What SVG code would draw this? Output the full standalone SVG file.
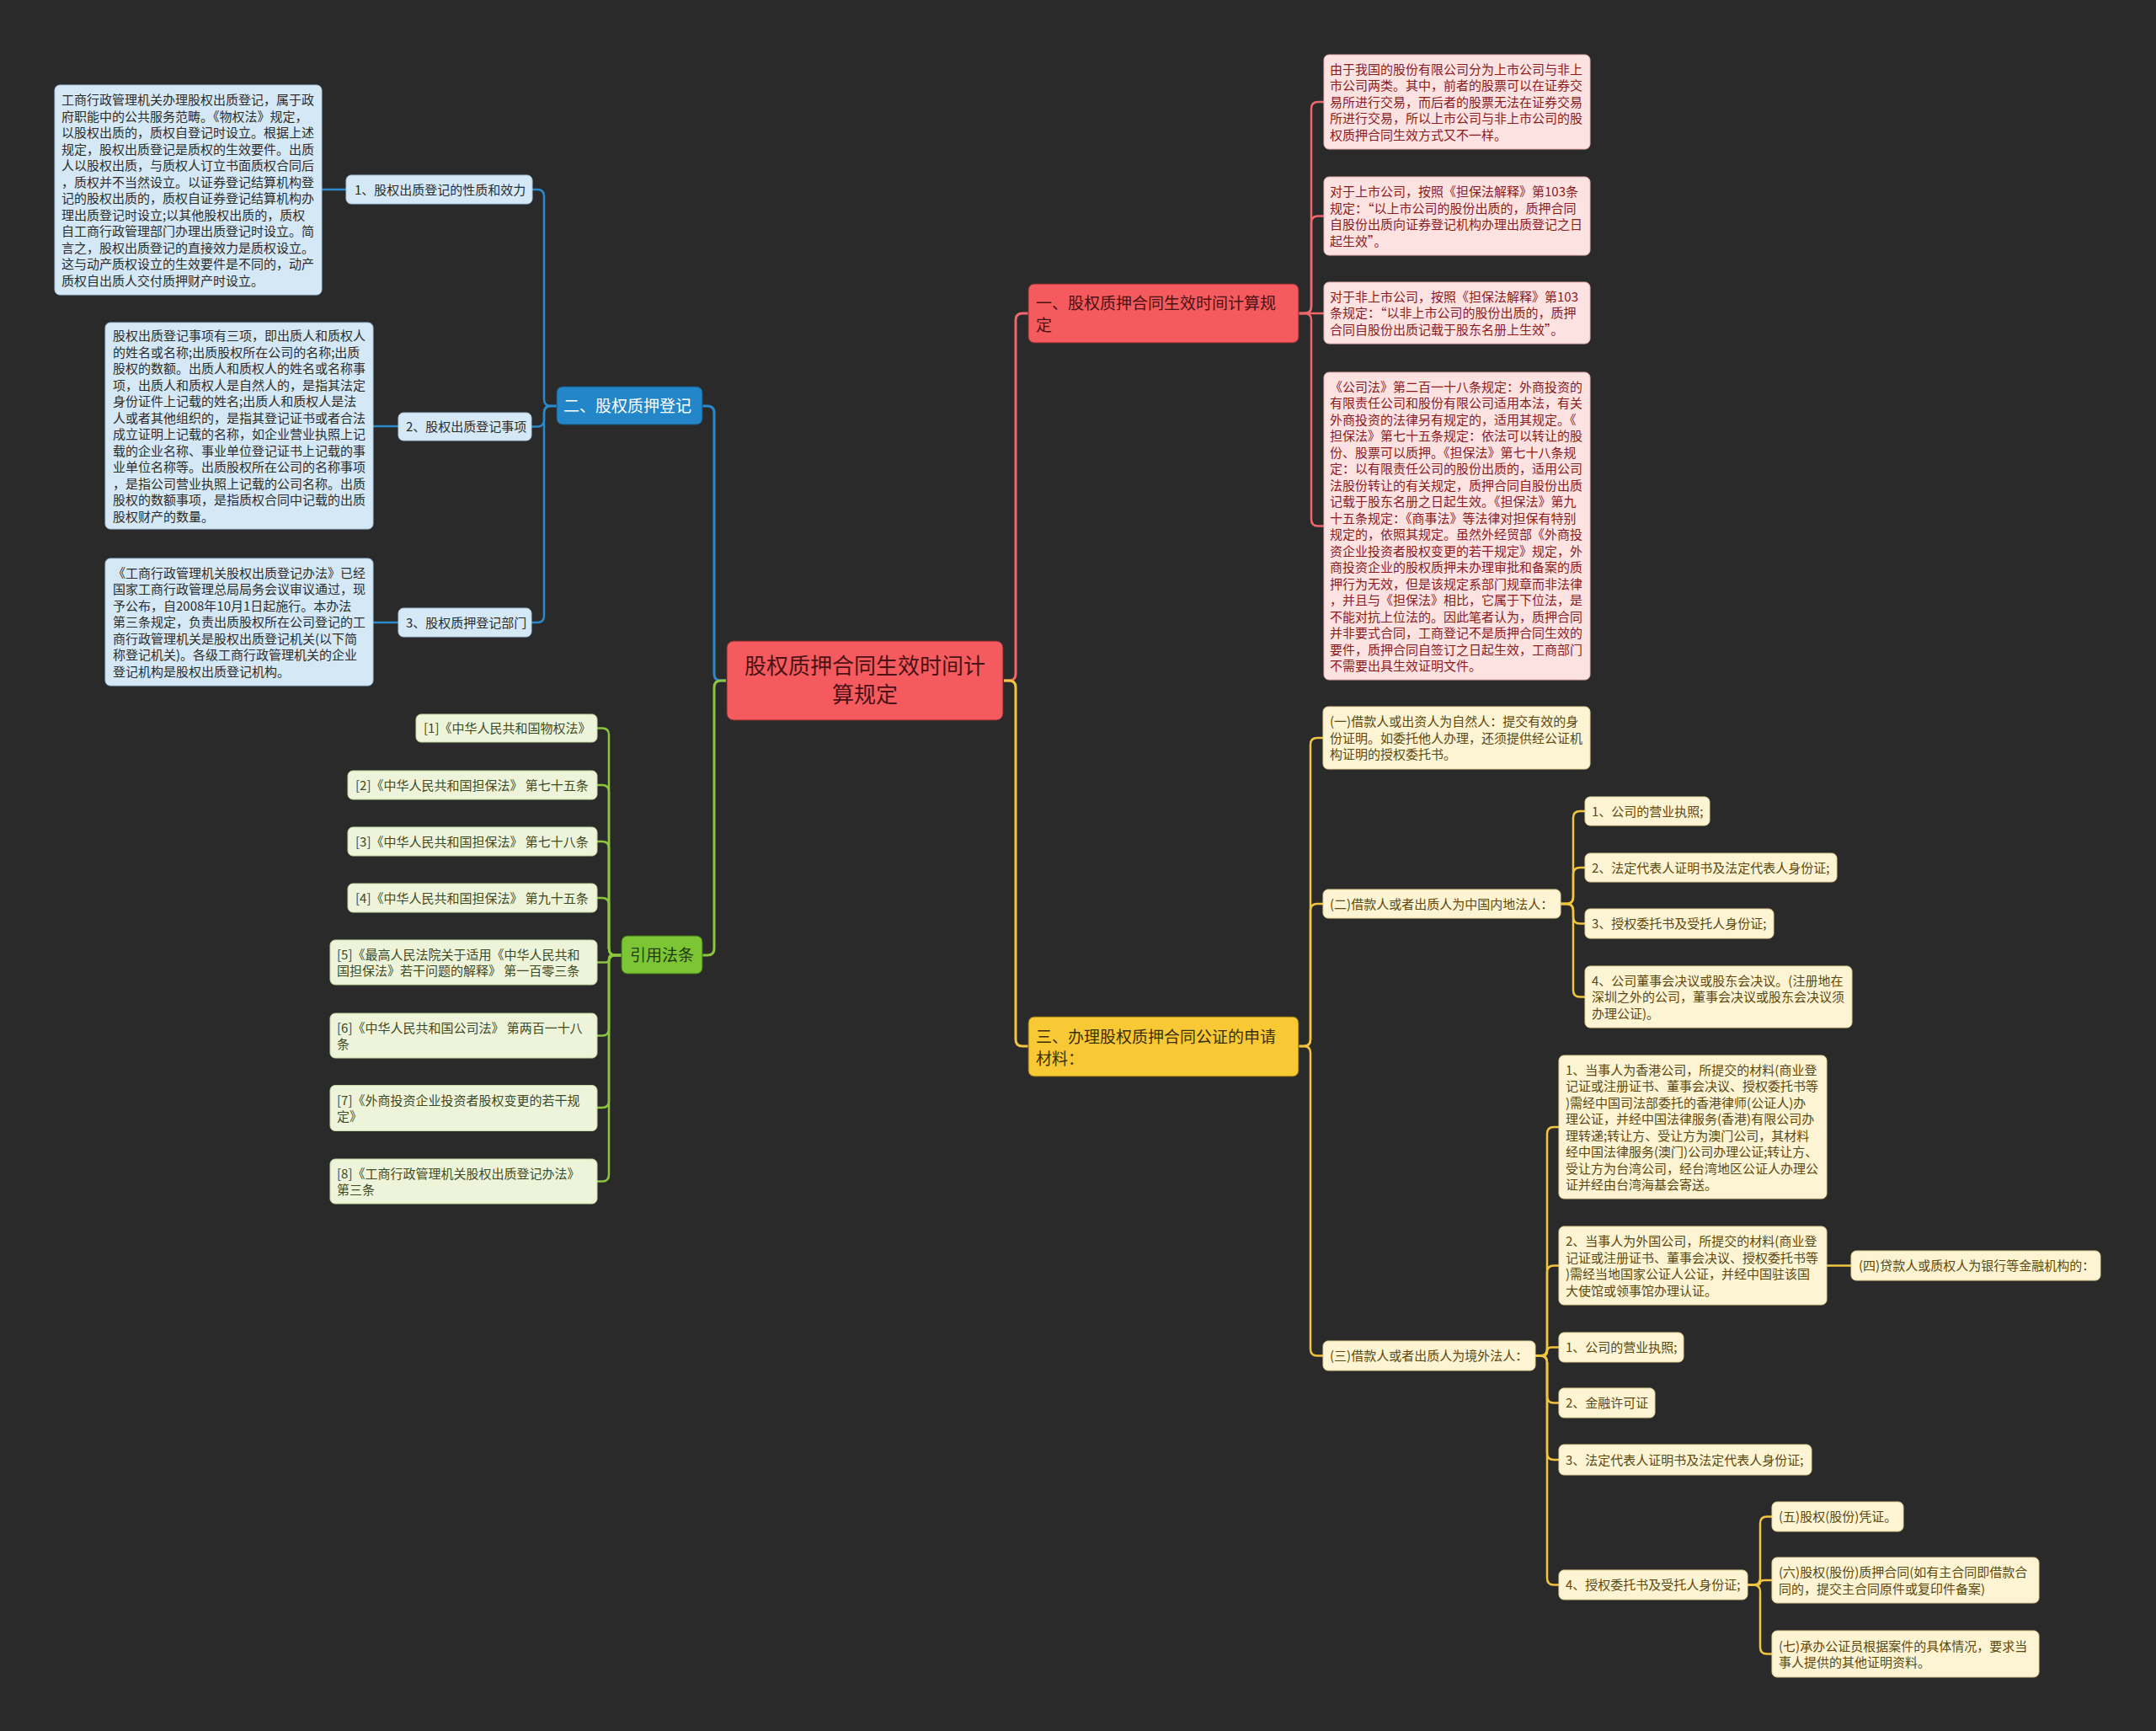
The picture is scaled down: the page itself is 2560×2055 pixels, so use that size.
<svg xmlns="http://www.w3.org/2000/svg" width="2560" height="2055" viewBox="0 0 2560 2055">
<style>
text{font-family:"Noto Sans CJK SC","Noto Sans",sans-serif;}
.s{font-size:15px;}
.m{font-size:19px;}
.c{font-size:26px;}
.bbox{fill:#d5e8f5;stroke:#a9c9e2;stroke-width:1;}
.btx{fill:#2c2c2c;}
.pbox{fill:#fde2e2;stroke:#e9b3b3;stroke-width:1;}
.ptx{fill:#8a1a1e;}
.gbox{fill:#eef4da;stroke:#c5d9a3;stroke-width:1;}
.gtx{fill:#3d4a26;}
.ybox{fill:#fdf4d3;stroke:#e6d39a;stroke-width:1;}
.ytx{fill:#5c4810;}
.lb{fill:none;stroke:#2b88cb;stroke-width:2.5;}
.lr{fill:none;stroke:#f0676b;stroke-width:2.5;}
.lg{fill:none;stroke:#8cc63f;stroke-width:2.5;}
.ly{fill:none;stroke:#f1c540;stroke-width:2.5;}
.main{stroke-width:3;}
</style>
<rect x="0" y="0" width="2560" height="2055" fill="#2a2a2a"/>

<g id="connectors">
<path class="lr main" d="M1192,808 H1198 Q1206,808 1206,800 V380 Q1206,372 1214,372 H1221"/>
<path class="ly main" d="M1192,808 H1198 Q1206,808 1206,816 V1234 Q1206,1242 1214,1242 H1221"/>
<path class="lb main" d="M862,808 H856 Q848,808 848,800 V490 Q848,482 840,482 H834"/>
<path class="lg main" d="M862,808 H856 Q848,808 848,816 V1126 Q848,1134 840,1134 H834"/>

<path class="lr" d="M1542,372 H1549 Q1557,372 1557,364 V129 Q1557,121 1565,121 H1572"/>
<path class="lr" d="M1542,372 H1549 Q1557,372 1557,364 V264.5 Q1557,256.5 1565,256.5 H1572"/>
<path class="lr" d="M1542,372 H1572"/>
<path class="lr" d="M1542,372 H1549 Q1557,372 1557,380 V616.5 Q1557,624.5 1565,624.5 H1572"/>

<path class="ly" d="M1542,1242 H1548 Q1556,1242 1556,1234 V884 Q1556,876 1564,876 H1571"/>
<path class="ly" d="M1542,1242 H1548 Q1556,1242 1556,1234 V1081 Q1556,1073 1564,1073 H1571"/>
<path class="ly" d="M1542,1242 H1548 Q1556,1242 1556,1250 V1601.5 Q1556,1609.5 1564,1609.5 H1571"/>

<path class="ly" d="M1853,1073 H1860 Q1868,1073 1868,1065 V971 Q1868,963 1876,963 H1882"/>
<path class="ly" d="M1853,1073 H1860 Q1868,1073 1868,1065 V1038 Q1868,1030 1876,1030 H1882"/>
<path class="ly" d="M1853,1073 H1860 Q1868,1073 1868,1081 V1088.5 Q1868,1096.5 1876,1096.5 H1882"/>
<path class="ly" d="M1853,1073 H1860 Q1868,1073 1868,1081 V1175.5 Q1868,1183.5 1876,1183.5 H1882"/>

<path class="ly" d="M1823,1609.5 H1829 Q1837,1609.5 1837,1601.5 V1346 Q1837,1338 1845,1338 H1851"/>
<path class="ly" d="M1823,1609.5 H1829 Q1837,1609.5 1837,1601.5 V1510.5 Q1837,1502.5 1845,1502.5 H1851"/>
<path class="ly" d="M1823,1609.5 H1832 Q1837,1609.5 1837,1604.5 Q1837,1599.5 1842,1599.5 H1851"/>
<path class="ly" d="M1823,1609.5 H1829 Q1837,1609.5 1837,1617.5 V1657.5 Q1837,1665.5 1845,1665.5 H1851"/>
<path class="ly" d="M1823,1609.5 H1829 Q1837,1609.5 1837,1617.5 V1725 Q1837,1733 1845,1733 H1851"/>
<path class="ly" d="M1823,1609.5 H1829 Q1837,1609.5 1837,1617.5 V1873.5 Q1837,1881.5 1845,1881.5 H1851"/>

<path class="ly" d="M2169,1502.5 H2198"/>

<path class="ly" d="M2075,1881.5 H2082 Q2090,1881.5 2090,1873.5 V1808.5 Q2090,1800.5 2098,1800.5 H2104"/>
<path class="ly" d="M2075,1881.5 H2085 Q2090,1881.5 2090,1878.75 Q2090,1876 2095,1876 H2104"/>
<path class="ly" d="M2075,1881.5 H2082 Q2090,1881.5 2090,1889.5 V1955.5 Q2090,1963.5 2098,1963.5 H2104"/>

<path class="lb" d="M661,482 H654 Q646,482 646,474 V233 Q646,225 638,225 H632"/>
<path class="lb" d="M661,482 H654 Q646,482 646,490 V498.5 Q646,506.5 638,506.5 H631"/>
<path class="lb" d="M661,482 H654 Q646,482 646,490 V731 Q646,739 638,739 H631"/>
<path class="lb" d="M411,225 H382"/>
<path class="lb" d="M473,506 H443"/>
<path class="lb" d="M473,739 H443"/>

<path class="lg" d="M738,1134 H731 Q723,1134 723,1126 V872.5 Q723,864.5 715,864.5 H709"/>
<path class="lg" d="M738,1134 H731 Q723,1134 723,1126 V940 Q723,932 715,932 H709"/>
<path class="lg" d="M738,1134 H731 Q723,1134 723,1126 V1007 Q723,999 715,999 H709"/>
<path class="lg" d="M738,1134 H731 Q723,1134 723,1126 V1074 Q723,1066 715,1066 H709"/>
<path class="lg" d="M738,1134 H727 Q723,1134 723,1138 Q723,1142.5 719,1142.5 H709"/>
<path class="lg" d="M738,1134 H731 Q723,1134 723,1142 V1221.5 Q723,1229.5 715,1229.5 H709"/>
<path class="lg" d="M738,1134 H731 Q723,1134 723,1142 V1307 Q723,1315 715,1315 H709"/>
<path class="lg" d="M738,1134 H731 Q723,1134 723,1142 V1394.5 Q723,1402.5 715,1402.5 H709"/>
</g>

<g id="center">
<rect x="863" y="761" width="328" height="94" rx="8" fill="#f55a5e" stroke="#7a2a2c" stroke-width="1"/>
<text class="c" fill="#4a1214" text-anchor="middle"><tspan x="1027" y="800">股权质押合同生效时间计</tspan><tspan x="1027" y="834">算规定</tspan></text>
</g>

<g id="n-yi">
<rect x="1221" y="337" width="321" height="70" rx="7" fill="#f55a5e" stroke="#7a2a2c" stroke-width="1"/>
<text class="m" fill="#4a1214"><tspan x="1230" y="366.7">一、股权质押合同生效时间计算规</tspan><tspan x="1230" y="392.7">定</tspan></text>
</g>

<g id="r1">
<rect class="pbox" x="1572" y="65" width="316" height="112" rx="6"/>
<text class="s ptx"><tspan x="1579" y="87.7">由于我国的股份有限公司分为上市公司与非上</tspan><tspan x="1579" dy="19.5">市公司两类。其中，前者的股票可以在证券交</tspan><tspan x="1579" dy="19.5">易所进行交易，而后者的股票无法在证券交易</tspan><tspan x="1579" dy="19.5">所进行交易，所以上市公司与非上市公司的股</tspan><tspan x="1579" dy="19.5">权质押合同生效方式又不一样。</tspan></text>
</g>
<g id="r2">
<rect class="pbox" x="1572" y="210" width="316" height="93" rx="6"/>
<text class="s ptx"><tspan x="1579" y="233">对于上市公司，按照《担保法解释》第103条</tspan><tspan x="1579" dy="19.5">规定：“以上市公司的股份出质的，质押合同</tspan><tspan x="1579" dy="19.5">自股份出质向证券登记机构办理出质登记之日</tspan><tspan x="1579" dy="19.5">起生效”。</tspan></text>
</g>
<g id="r3">
<rect class="pbox" x="1572" y="335" width="316" height="73" rx="6"/>
<text class="s ptx"><tspan x="1579" y="357.7">对于非上市公司，按照《担保法解释》第103</tspan><tspan x="1579" dy="19.5">条规定：“以非上市公司的股份出质的，质押</tspan><tspan x="1579" dy="19.5">合同自股份出质记载于股东名册上生效”。</tspan></text>
</g>
<g id="r4">
<rect class="pbox" x="1572" y="442" width="316" height="365" rx="6"/>
<text class="s ptx"><tspan x="1579" y="464.5">《公司法》第二百一十八条规定：外商投资的</tspan><tspan x="1579" dy="19.5">有限责任公司和股份有限公司适用本法，有关</tspan><tspan x="1579" dy="19.5">外商投资的法律另有规定的，适用其规定。《</tspan><tspan x="1579" dy="19.5">担保法》第七十五条规定：依法可以转让的股</tspan><tspan x="1579" dy="19.5">份、股票可以质押。《担保法》第七十八条规</tspan><tspan x="1579" dy="19.5">定：以有限责任公司的股份出质的，适用公司</tspan><tspan x="1579" dy="19.5">法股份转让的有关规定，质押合同自股份出质</tspan><tspan x="1579" dy="19.5">记载于股东名册之日起生效。《担保法》第九</tspan><tspan x="1579" dy="19.5">十五条规定：《商事法》等法律对担保有特别</tspan><tspan x="1579" dy="19.5">规定的，依照其规定。虽然外经贸部《外商投</tspan><tspan x="1579" dy="19.5">资企业投资者股权变更的若干规定》规定，外</tspan><tspan x="1579" dy="19.5">商投资企业的股权质押未办理审批和备案的质</tspan><tspan x="1579" dy="19.5">押行为无效，但是该规定系部门规章而非法律</tspan><tspan x="1579" dy="19.5">，并且与《担保法》相比，它属于下位法，是</tspan><tspan x="1579" dy="19.5">不能对抗上位法的。因此笔者认为，质押合同</tspan><tspan x="1579" dy="19.5">并非要式合同，工商登记不是质押合同生效的</tspan><tspan x="1579" dy="19.5">要件，质押合同自签订之日起生效，工商部门</tspan><tspan x="1579" dy="19.5">不需要出具生效证明文件。</tspan></text>
</g>

<g id="n-san">
<rect x="1221" y="1207" width="321" height="71" rx="7" fill="#f9c935" stroke="#6a5410" stroke-width="1"/>
<text class="m" fill="#3b2f08"><tspan x="1230" y="1237.7">三、办理股权质押合同公证的申请</tspan><tspan x="1230" y="1263.7">材料：</tspan></text>
</g>

<g id="y1">
<rect class="ybox" x="1571" y="839" width="317" height="74" rx="6"/>
<text class="s ytx"><tspan x="1579" y="862.2">(一)借款人或出资人为自然人：提交有效的身</tspan><tspan x="1579" dy="19.5">份证明。如委托他人办理，还须提供经公证机</tspan><tspan x="1579" dy="19.5">构证明的授权委托书。</tspan></text>
</g>
<g id="y2">
<rect class="ybox" x="1571" y="1056" width="282" height="34" rx="6"/>
<text class="s ytx" x="1579" y="1078.7">(二)借款人或者出质人为中国内地法人：</text>
</g>
<g id="y2a">
<rect class="ybox" x="1882" y="946" width="148" height="34" rx="6"/>
<text class="s ytx" x="1890" y="968.7">1、公司的营业执照;</text>
</g>
<g id="y2b">
<rect class="ybox" x="1882" y="1013" width="299" height="34" rx="6"/>
<text class="s ytx" x="1890" y="1035.7">2、法定代表人证明书及法定代表人身份证;</text>
</g>
<g id="y2c">
<rect class="ybox" x="1882" y="1079" width="224" height="35" rx="6"/>
<text class="s ytx" x="1890" y="1102.2">3、授权委托书及受托人身份证;</text>
</g>
<g id="y2d">
<rect class="ybox" x="1882" y="1147" width="317" height="73" rx="6"/>
<text class="s ytx"><tspan x="1890" y="1169.7">4、公司董事会决议或股东会决议。(注册地在</tspan><tspan x="1890" dy="19.5">深圳之外的公司，董事会决议或股东会决议须</tspan><tspan x="1890" dy="19.5">办理公证)。</tspan></text>
</g>

<g id="y3">
<rect class="ybox" x="1571" y="1592" width="252" height="35" rx="6"/>
<text class="s ytx" x="1579" y="1615.2">(三)借款人或者出质人为境外法人：</text>
</g>
<g id="y3hk">
<rect class="ybox" x="1851" y="1253" width="318" height="170" rx="6"/>
<text class="s ytx"><tspan x="1859" y="1275.5">1、当事人为香港公司，所提交的材料(商业登</tspan><tspan x="1859" dy="19.5">记证或注册证书、董事会决议、授权委托书等</tspan><tspan x="1859" dy="19.5">)需经中国司法部委托的香港律师(公证人)办</tspan><tspan x="1859" dy="19.5">理公证，并经中国法律服务(香港)有限公司办</tspan><tspan x="1859" dy="19.5">理转递;转让方、受让方为澳门公司，其材料</tspan><tspan x="1859" dy="19.5">经中国法律服务(澳门)公司办理公证;转让方、</tspan><tspan x="1859" dy="19.5">受让方为台湾公司，经台湾地区公证人办理公</tspan><tspan x="1859" dy="19.5">证并经由台湾海基会寄送。</tspan></text>
</g>
<g id="y3fo">
<rect class="ybox" x="1851" y="1456" width="318" height="93" rx="6"/>
<text class="s ytx"><tspan x="1859" y="1479">2、当事人为外国公司，所提交的材料(商业登</tspan><tspan x="1859" dy="19.5">记证或注册证书、董事会决议、授权委托书等</tspan><tspan x="1859" dy="19.5">)需经当地国家公证人公证，并经中国驻该国</tspan><tspan x="1859" dy="19.5">大使馆或领事馆办理认证。</tspan></text>
</g>
<g id="y4">
<rect class="ybox" x="2198" y="1485" width="296" height="35" rx="6"/>
<text class="s ytx" x="2207" y="1508.2">(四)贷款人或质权人为银行等金融机构的：</text>
</g>
<g id="y3a">
<rect class="ybox" x="1851" y="1582" width="148" height="35" rx="6"/>
<text class="s ytx" x="1859" y="1605.2">1、公司的营业执照;</text>
</g>
<g id="y3b">
<rect class="ybox" x="1851" y="1648" width="114" height="35" rx="6"/>
<text class="s ytx" x="1859" y="1671.2">2、金融许可证</text>
</g>
<g id="y3c">
<rect class="ybox" x="1851" y="1715" width="300" height="36" rx="6"/>
<text class="s ytx" x="1859" y="1738.7">3、法定代表人证明书及法定代表人身份证;</text>
</g>
<g id="y3d">
<rect class="ybox" x="1851" y="1864" width="224" height="35" rx="6"/>
<text class="s ytx" x="1859" y="1887.2">4、授权委托书及受托人身份证;</text>
</g>
<g id="y5">
<rect class="ybox" x="2104" y="1783" width="156" height="35" rx="6"/>
<text class="s ytx" x="2112" y="1806.2">(五)股权(股份)凭证。</text>
</g>
<g id="y6">
<rect class="ybox" x="2104" y="1849" width="317" height="54" rx="6"/>
<text class="s ytx"><tspan x="2112" y="1872">(六)股权(股份)质押合同(如有主合同即借款合</tspan><tspan x="2112" dy="19.5">同的，提交主合同原件或复印件备案)</tspan></text>
</g>
<g id="y7">
<rect class="ybox" x="2104" y="1936" width="317" height="55" rx="6"/>
<text class="s ytx"><tspan x="2112" y="1959.5">(七)承办公证员根据案件的具体情况，要求当</tspan><tspan x="2112" dy="19.5">事人提供的其他证明资料。</tspan></text>
</g>

<g id="n-er">
<rect x="661" y="459" width="173" height="45" rx="7" fill="#2386c8" stroke="#16507a" stroke-width="1"/>
<text class="m" fill="#ffffff" x="669" y="489.2">二、股权质押登记</text>
</g>
<g id="b1n">
<rect class="bbox" x="411" y="208" width="221" height="34" rx="6"/>
<text class="s btx" x="421" y="230.7">1、股权出质登记的性质和效力</text>
</g>
<g id="b2n">
<rect class="bbox" x="473" y="490" width="158" height="33" rx="6"/>
<text class="s btx" x="482" y="512.2">2、股权出质登记事项</text>
</g>
<g id="b3n">
<rect class="bbox" x="473" y="722" width="158" height="34" rx="6"/>
<text class="s btx" x="482" y="744.7">3、股权质押登记部门</text>
</g>
<g id="b1t">
<rect class="bbox" x="65" y="101" width="317" height="249" rx="6"/>
<text class="s btx"><tspan x="73" y="124">工商行政管理机关办理股权出质登记，属于政</tspan><tspan x="73" dy="19.5">府职能中的公共服务范畴。《物权法》规定，</tspan><tspan x="73" dy="19.5">以股权出质的，质权自登记时设立。根据上述</tspan><tspan x="73" dy="19.5">规定，股权出质登记是质权的生效要件。出质</tspan><tspan x="73" dy="19.5">人以股权出质，与质权人订立书面质权合同后</tspan><tspan x="73" dy="19.5">，质权并不当然设立。以证券登记结算机构登</tspan><tspan x="73" dy="19.5">记的股权出质的，质权自证券登记结算机构办</tspan><tspan x="73" dy="19.5">理出质登记时设立;以其他股权出质的，质权</tspan><tspan x="73" dy="19.5">自工商行政管理部门办理出质登记时设立。简</tspan><tspan x="73" dy="19.5">言之，股权出质登记的直接效力是质权设立。</tspan><tspan x="73" dy="19.5">这与动产质权设立的生效要件是不同的，动产</tspan><tspan x="73" dy="19.5">质权自出质人交付质押财产时设立。</tspan></text>
</g>
<g id="b2t">
<rect class="bbox" x="125" y="383" width="318" height="245" rx="6"/>
<text class="s btx"><tspan x="134" y="404">股权出质登记事项有三项，即出质人和质权人</tspan><tspan x="134" dy="19.5">的姓名或名称;出质股权所在公司的名称;出质</tspan><tspan x="134" dy="19.5">股权的数额。出质人和质权人的姓名或名称事</tspan><tspan x="134" dy="19.5">项，出质人和质权人是自然人的，是指其法定</tspan><tspan x="134" dy="19.5">身份证件上记载的姓名;出质人和质权人是法</tspan><tspan x="134" dy="19.5">人或者其他组织的，是指其登记证书或者合法</tspan><tspan x="134" dy="19.5">成立证明上记载的名称，如企业营业执照上记</tspan><tspan x="134" dy="19.5">载的企业名称、事业单位登记证书上记载的事</tspan><tspan x="134" dy="19.5">业单位名称等。出质股权所在公司的名称事项</tspan><tspan x="134" dy="19.5">，是指公司营业执照上记载的公司名称。出质</tspan><tspan x="134" dy="19.5">股权的数额事项，是指质权合同中记载的出质</tspan><tspan x="134" dy="19.5">股权财产的数量。</tspan></text>
</g>
<g id="b3t">
<rect class="bbox" x="125" y="663" width="318" height="151" rx="6"/>
<text class="s btx"><tspan x="134" y="685.7">《工商行政管理机关股权出质登记办法》已经</tspan><tspan x="134" dy="19.5">国家工商行政管理总局局务会议审议通过，现</tspan><tspan x="134" dy="19.5">予公布，自2008年10月1日起施行。本办法</tspan><tspan x="134" dy="19.5">第三条规定，负责出质股权所在公司登记的工</tspan><tspan x="134" dy="19.5">商行政管理机关是股权出质登记机关(以下简</tspan><tspan x="134" dy="19.5">称登记机关)。各级工商行政管理机关的企业</tspan><tspan x="134" dy="19.5">登记机构是股权出质登记机构。</tspan></text>
</g>

<g id="n-law">
<rect x="738" y="1111" width="96" height="45" rx="7" fill="#7cc636" stroke="#3d6a12" stroke-width="1"/>
<text class="m" fill="#1f3a06" x="748" y="1140.7">引用法条</text>
</g>
<g id="g1">
<rect class="gbox" x="494" y="848" width="215" height="33" rx="6"/>
<text class="s gtx" x="503" y="870.2">[1]《中华人民共和国物权法》</text>
</g>
<g id="g2">
<rect class="gbox" x="413" y="915" width="296" height="34" rx="6"/>
<text class="s gtx" x="422" y="937.7">[2]《中华人民共和国担保法》 第七十五条</text>
</g>
<g id="g3">
<rect class="gbox" x="413" y="982" width="296" height="34" rx="6"/>
<text class="s gtx" x="422" y="1004.7">[3]《中华人民共和国担保法》 第七十八条</text>
</g>
<g id="g4">
<rect class="gbox" x="413" y="1049" width="296" height="34" rx="6"/>
<text class="s gtx" x="422" y="1071.7">[4]《中华人民共和国担保法》 第九十五条</text>
</g>
<g id="g5">
<rect class="gbox" x="392" y="1116" width="317" height="53" rx="6"/>
<text class="s gtx"><tspan x="400" y="1138.5">[5]《最高人民法院关于适用《中华人民共和</tspan><tspan x="400" dy="19.5">国担保法》若干问题的解释》 第一百零三条</tspan></text>
</g>
<g id="g6">
<rect class="gbox" x="392" y="1203" width="317" height="53" rx="6"/>
<text class="s gtx"><tspan x="400" y="1225.5">[6]《中华人民共和国公司法》 第两百一十八</tspan><tspan x="400" dy="19.5">条</tspan></text>
</g>
<g id="g7">
<rect class="gbox" x="392" y="1288.5" width="317" height="54" rx="6"/>
<text class="s gtx"><tspan x="400" y="1311.5">[7]《外商投资企业投资者股权变更的若干规</tspan><tspan x="400" dy="19.5">定》</tspan></text>
</g>
<g id="g8">
<rect class="gbox" x="392" y="1376" width="317" height="53" rx="6"/>
<text class="s gtx"><tspan x="400" y="1398.5">[8]《工商行政管理机关股权出质登记办法》</tspan><tspan x="400" dy="19.5">第三条</tspan></text>
</g>
</svg>
